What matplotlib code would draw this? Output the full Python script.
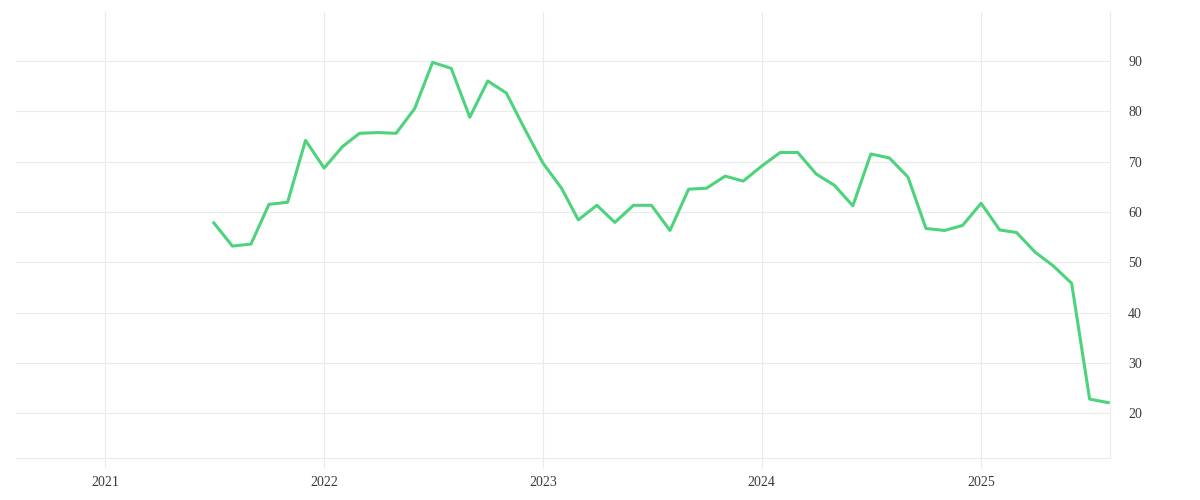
import pandas as pd
import matplotlib
matplotlib.use("Agg")
from matplotlib import pyplot as plt

# monthly values, Jul 2021 .. Aug 2025
start_month = "2021-07-01"
values = [57.8, 53.2, 53.6, 61.5, 61.9, 74.2,
          68.7, 73.0, 75.6, 75.75, 75.6, 80.5, 89.7, 88.5, 78.8, 86.0, 83.6, 76.6,
          69.7, 64.7, 58.4, 61.3, 57.9, 61.3, 61.3, 56.3, 64.5, 64.7, 67.1, 66.1,
          69.1, 71.8, 71.8, 67.5, 65.3, 61.2, 71.5, 70.7, 66.9, 56.7, 56.3, 57.3,
          61.7, 56.4, 55.9, 52.0, 49.3, 45.8, 22.8, 22.1]
months = pd.date_range(start_month, periods=len(values), freq="MS")
year_ticks = pd.to_datetime(["2021-01-01", "2022-01-01", "2023-01-01", "2024-01-01", "2025-01-01"])
year_labels = ["2021", "2022", "2023", "2024", "2025"]
y_ticks = [20, 30, 40, 50, 60, 70, 80, 90]

grid_col = "#ebebeb"
txt_col = "#3a3a3a"

fig = plt.figure(figsize=(12, 5), dpi=100)
ax = fig.add_axes([16/1200, 42/500, (1110-16)/1200, (458-12)/500])

ax.plot(months, values, color="#4cd37b", lw=2.2)

ax.set_xlim(pd.Timestamp("2020-08-05"), pd.Timestamp("2025-08-04"))
ax.set_ylim(11.1, 99.7)

ax.set_xticks(year_ticks)
ax.set_xticklabels(year_labels)
ax.set_yticks(y_ticks)
ax.yaxis.tick_right()

ax.grid(True, color=grid_col, lw=0.8)
ax.set_axisbelow(True)
for s in ["top", "left"]:
    ax.spines[s].set_visible(False)
for s in ["bottom", "right"]:
    ax.spines[s].set_color(grid_col)
    ax.spines[s].set_linewidth(0.8)

ax.tick_params(axis="x", length=7, width=0.8, color=grid_col, pad=6,
               labelsize=10, labelcolor=txt_col)
ax.tick_params(axis="y", length=0, pad=13, labelsize=10, labelcolor=txt_col)
for lab in ax.get_xticklabels() + ax.get_yticklabels():
    lab.set_family("Liberation Serif")

fig.savefig("out.png", dpi=100)
